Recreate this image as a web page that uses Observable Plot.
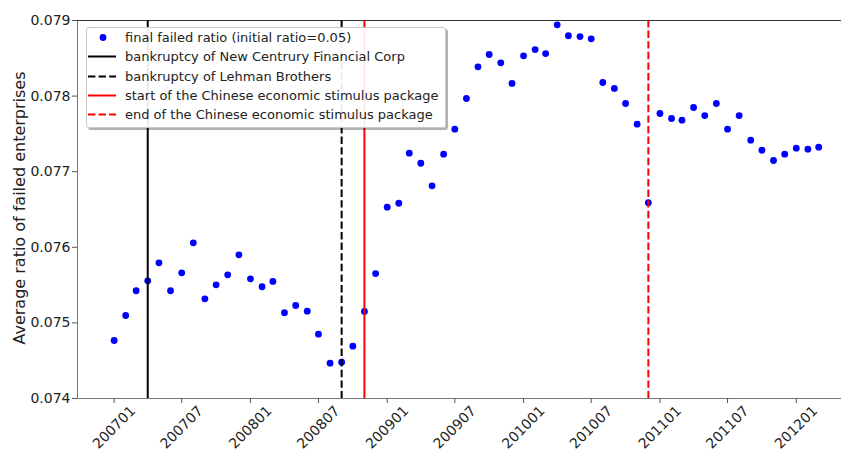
<!DOCTYPE html>
<html><head><meta charset="utf-8">
<script src="https://cdn.jsdelivr.net/npm/d3@7"></script>
<script src="https://cdn.jsdelivr.net/npm/@observablehq/plot@0.6"></script>
<style>
body{margin:0;background:#fff;font-family:"DejaVu Sans",sans-serif;}
#wrap{position:relative;width:841px;height:451px;overflow:hidden;}
#legend{position:absolute;left:86px;top:27px;width:358px;height:99px;background:rgba(255,255,255,0.92);border:1px solid #c8c8c8;border-radius:3px;box-shadow:2px 2px 0 rgba(0,0,0,0.3);font-size:13px;color:#222;}
.row{position:absolute;left:0;height:19px;display:flex;align-items:center;white-space:nowrap;}
.row svg{display:block;margin-right:7px;}
#ylabel{position:absolute;left:20px;top:208px;transform:translate(-50%,-50%) rotate(-90deg);white-space:nowrap;font-size:16px;color:#222;line-height:1;}
</style></head><body><div id="wrap"></div>
<script>
const months = ["200701","200702","200703","200704","200705","200706","200707","200708","200709","200710","200711","200712",
"200801","200802","200803","200804","200805","200806","200807","200808","200809","200810","200811","200812",
"200901","200902","200903","200904","200905","200906","200907","200908","200909","200910","200911","200912",
"201001","201002","201003","201004","201005","201006","201007","201008","201009","201010","201011","201012",
"201101","201102","201103","201104","201105","201106","201107","201108","201109","201110","201111","201112",
"201201","201202","201203"];
const ratios = [0.074767,0.075098,0.075425,0.075557,0.075795,0.075425,0.075663,0.076059,0.075319,0.075504,0.075636,0.075901,
0.075583,0.075478,0.075548,0.075134,0.075230,0.075155,0.074851,0.074467,0.074480,0.074692,0.075151,0.075653,
0.076531,0.076583,0.077245,0.077112,0.076813,0.077232,0.077562,0.077968,0.078387,0.078550,0.078440,0.078167,
0.078533,0.078616,0.078563,0.078943,0.078798,0.078788,0.078758,0.078180,0.078101,0.077902,0.077628,0.076589,
0.077770,0.077704,0.077681,0.077849,0.077743,0.077902,0.077562,0.077743,0.077417,0.077284,0.077148,0.077232,
0.077311,0.077298,0.077324];
const xTickLabels = ["200701","200707","200801","200807","200901","200907","201001","201007","201101","201107","201201"];
const yTicks = [0.074,0.075,0.076,0.077,0.078,0.079];
const eventMonths = ["200704","200809","200811","201012"];
const eventLabels = ["bankruptcy of New Centrury Financial Corp","bankruptcy of Lehman Brothers","start of the Chinese economic stimulus package","end of the Chinese economic stimulus package"];
const eventColors = ["black","black","red","red"];
const eventDashed = [false,true,false,true];
const seriesLabel = "final failed ratio (initial ratio=0.05)";
const yLabel = "Average ratio of failed enterprises";

const parse = d3.utcParse("%Y%m");
const data = months.map((m,i)=>({date: parse(m), value: ratios[i]}));
const xTicks = xTickLabels.map(parse);
const xDomain = [new Date(Date.UTC(2006,8,25)), new Date(Date.UTC(2012,4,1))];
const DASH = "7.4,3.2";

const ruleMarks = eventMonths.map((m,i)=>Plot.ruleX([parse(m)], {stroke: eventColors[i], strokeWidth: 2, strokeDasharray: eventDashed[i] ? DASH : null}));

const chart = Plot.plot({
  width:841, height:451, marginLeft:77, marginRight:0, marginTop:20, marginBottom:53,
  style:{fontFamily:"DejaVu Sans", fontSize:"14px", color:"#222", background:"white"},
  x:{type:"utc", domain:xDomain},
  y:{domain:[yTicks[0], yTicks[yTicks.length-1]]},
  marks:[
    Plot.frame({anchor:"left", stroke:"#777"}),
    Plot.frame({anchor:"bottom", stroke:"#777"}),
    Plot.frame({anchor:"top", stroke:"#333"}),
    Plot.dot(data, {x:"date", y:"value", r:3.4, fill:"#0000ff"}),
    ...ruleMarks,
    Plot.axisY({ticks:yTicks, tickFormat:d3.format(".3f"), tickSize:5, tickPadding:2, label:null, stroke:"#555"}),
    Plot.axisX({ticks:xTicks, tickFormat:d3.utcFormat("%Y%m"), tickSize:5, tickRotate:-45, textAnchor:"middle", lineAnchor:"middle", tickPadding:24, label:null, stroke:"#555"})
  ]
});
const wrap = document.getElementById("wrap");
wrap.appendChild(chart);
d3.select(wrap).append("div").attr("id","ylabel").text(yLabel);

// legend
const legend = d3.select(wrap).append("div").attr("id","legend");
const items = [{label:seriesLabel, type:"dot", color:"#0000ff"}].concat(eventLabels.map((l,i)=>({label:l, type:"line", color:eventColors[i], dashed:eventDashed[i]})));
items.forEach((it,i)=>{
  const row = legend.append("div").attr("class","row").style("top", (i*19.3) + "px");
  const s = row.append("svg").attr("width",31).attr("height",19);
  if (it.type==="dot") s.append("circle").attr("cx",16).attr("cy",9.5).attr("r",3.4).attr("fill",it.color);
  else s.append("line").attr("x1",1).attr("x2",29).attr("y1",9.5).attr("y2",9.5).attr("stroke",it.color).attr("stroke-width",2).attr("stroke-dasharray", it.dashed ? DASH : null);
  row.append("span").text(it.label);
});
</script></body></html>
